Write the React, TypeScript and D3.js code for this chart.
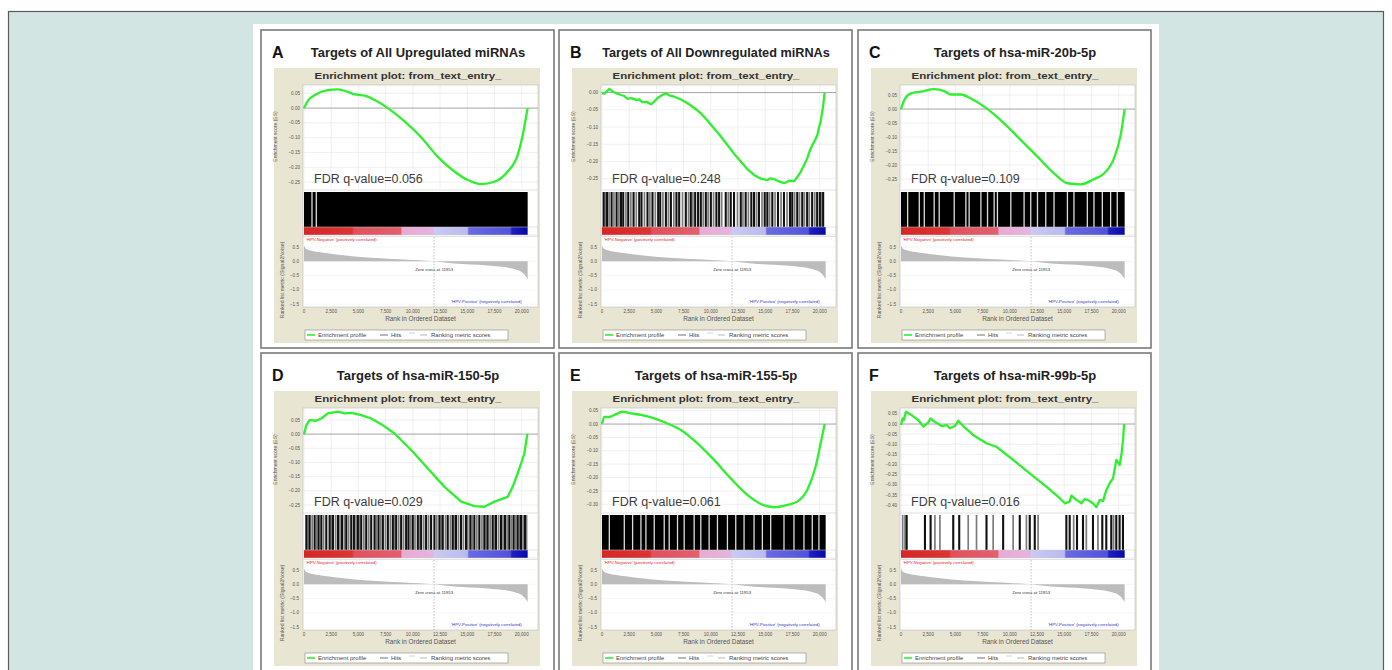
import React from "react";
import * as d3 from "d3";

// ---------------- DATA ----------------
const panelLetters = ["A", "B", "C", "D", "E", "F"];
const panelTitles = [
  "Targets of All Upregulated miRNAs",
  "Targets of All Downregulated miRNAs",
  "Targets of hsa-miR-20b-5p",
  "Targets of hsa-miR-150-5p",
  "Targets of hsa-miR-155-5p",
  "Targets of hsa-miR-99b-5p",
];
const fdrValues = ["0.056", "0.248", "0.109", "0.029", "0.061", "0.016"];
const plotTitle = "Enrichment plot: from_text_entry_";
const esAxisLabel = "Enrichment score (ES)";
const rankedAxisLabel = "Ranked list metric (Signal2Noise)";
const xAxisLabel = "Rank in Ordered Dataset";
const posLabel = "'HPV-Negative' (positively correlated)";
const negLabel = "'HPV-Positive' (negatively correlated)";
const legendLabels = ["Enrichment profile", "Hits", "Ranking metric scores"];

const xTickValues = [0, 2500, 5000, 7500, 10000, 12500, 15000, 17500, 20000];
const xDomainMax = 21500;
const listSize = 20550;
const zeroCross = 11953;
const rankedTickValues = [0.5, 0, -0.5, -1, -1.5];
const rankedDomain = [-1.6, 0.85];

// ranking metric (same dataset in every panel)
const rankedMetric: [number, number][] = [
  [0, 0.56], [150, 0.45], [600, 0.38], [1600, 0.31], [3000, 0.24], [4650, 0.17],
  [7000, 0.11], [9200, 0.06], [11953, 0], [13800, -0.08], [16870, -0.15],
  [19300, -0.27], [20240, -0.45], [20550, -0.62],
];

// colour bar of the ranked list
const colorBarStops: [number, string][] = [
  [0, "#d52626"], [4400, "#dc3434"], [4600, "#e0505c"], [8900, "#e2606e"],
  [9000, "#eaaad2"], [11850, "#e4b4e0"], [11950, "#cacaf3"], [15000, "#babaf0"],
  [15150, "#6a6ae2"], [18950, "#5252da"], [19100, "#2020c2"], [20550, "#0808a6"],
];

// ES axes
const esTicksA = [0.05, 0, -0.05, -0.1, -0.15, -0.2, -0.25];
const esTicksB = [0, -0.05, -0.1, -0.15, -0.2, -0.25];
const esTicksC = [0.05, 0, -0.05, -0.1, -0.15, -0.2, -0.25];
const esTicksD = [0.05, 0, -0.05, -0.1, -0.15, -0.2, -0.25];
const esTicksE = [0.05, 0, -0.05, -0.1, -0.15, -0.2, -0.25, -0.3];
const esTicksF = [0.05, 0, -0.05, -0.1, -0.15, -0.2, -0.25, -0.3, -0.35, -0.4];

const esDomainA = [-0.27, 0.078];
const esDomainB = [-0.277, 0.022];
const esDomainC = [-0.282, 0.086];
const esDomainD = [-0.271, 0.092];
const esDomainE = [-0.325, 0.06];
const esDomainF = [-0.429, 0.079];

// running enrichment score curves [rank, ES]
const esCurveA: [number, number][] = [
  [0, 0], [400, 0.027], [1000, 0.044], [2200, 0.061], [3100, 0.063], [3750, 0.058],
  [4700, 0.046], [5600, 0.042], [6500, 0.027], [7700, 0], [9270, -0.046],
  [10800, -0.1], [12300, -0.165], [13850, -0.215], [15050, -0.243], [16300, -0.257],
  [17500, -0.249], [18700, -0.215], [19630, -0.159], [20100, -0.091], [20430, -0.024],
  [20550, 0],
];
const esCurveB: [number, number][] = [
  [0, -0.002], [210, -0.003], [680, 0.011], [990, 0.003], [1300, -0.002], [1740, -0.007],
  [2050, -0.01], [2350, -0.018], [2700, -0.016], [3120, -0.021], [3400, -0.02],
  [3730, -0.028], [4100, -0.027], [4500, -0.034], [4800, -0.026], [5100, -0.016],
  [5500, -0.008], [5870, -0.002], [6250, -0.009], [6630, -0.012], [7250, -0.02],
  [7860, -0.031], [8450, -0.044], [9080, -0.06], [9700, -0.082], [10300, -0.104],
  [10900, -0.127], [11520, -0.152], [12150, -0.178], [12750, -0.2], [13350, -0.222],
  [13970, -0.239], [14600, -0.25], [15190, -0.254], [15500, -0.249], [15800, -0.251],
  [16250, -0.258], [16730, -0.263], [17200, -0.256], [17650, -0.257], [17950, -0.245],
  [18260, -0.23], [18550, -0.212], [18870, -0.19], [19100, -0.168], [19330, -0.152],
  [19550, -0.14], [19790, -0.123], [19950, -0.1], [20090, -0.084], [20200, -0.062],
  [20330, -0.036], [20460, 0],
];
const esCurveC: [number, number][] = [
  [0, 0], [300, 0.032], [920, 0.056], [1830, 0.062], [3060, 0.071], [3970, 0.064],
  [4590, 0.052], [5500, 0.052], [6420, 0.038], [7950, 0], [9480, -0.051],
  [11010, -0.111], [12540, -0.17], [14070, -0.23], [15290, -0.265], [16510, -0.269],
  [17740, -0.25], [18650, -0.23], [19570, -0.176], [20180, -0.093], [20550, 0],
];
const esCurveD: [number, number][] = [
  [0, 0], [220, 0.032], [520, 0.049], [1130, 0.047], [1590, 0.055], [2200, 0.073],
  [3120, 0.079], [3730, 0.073], [4340, 0.075], [5260, 0.067], [6180, 0.055],
  [7100, 0.035], [8320, 0.002], [9850, -0.056], [11380, -0.121], [12910, -0.186],
  [14440, -0.238], [15660, -0.254], [16580, -0.256], [17500, -0.238], [18720, -0.221],
  [19170, -0.186], [19640, -0.138], [19950, -0.103], [20250, -0.068], [20500, -0.004],
  [20550, 0],
];
const esCurveE: [number, number][] = [
  [0, 0], [210, 0.027], [670, 0.027], [1130, 0.034], [1890, 0.046], [2660, 0.04],
  [3580, 0.034], [4800, 0.021], [6020, 0.002], [7250, -0.022], [8770, -0.072],
  [10300, -0.134], [11830, -0.203], [13360, -0.265], [14590, -0.299], [15810, -0.311],
  [17030, -0.302], [17950, -0.29], [18870, -0.246], [19630, -0.159], [20090, -0.072],
  [20460, 0],
];
const esCurveF: [number, number][] = [
  [0, -0.005], [150, 0.028], [260, 0.02], [450, 0.061], [970, 0.044], [1590, 0.02],
  [2050, -0.013], [2500, 0.007], [2720, 0.028], [3090, 0.011], [3730, -0.01],
  [4190, -0.005], [4490, -0.021], [4950, -0.01], [5260, 0.016], [5720, -0.01],
  [6630, -0.054], [7850, -0.095], [8770, -0.112], [10300, -0.177], [11830, -0.243],
  [13360, -0.309], [14590, -0.366], [15050, -0.391], [15500, -0.383], [15660, -0.353],
  [16120, -0.374], [16580, -0.391], [16880, -0.369], [17340, -0.38], [17650, -0.392],
  [17950, -0.41], [18260, -0.374], [18560, -0.38], [18870, -0.325], [19170, -0.292],
  [19480, -0.268], [19790, -0.177], [20090, -0.202], [20250, -0.153], [20400, -0.079],
  [20500, 0],
];

// hits: black base with white gaps (A, C, E) or separate black / gray lines (B, D, F)
const hitGapsA = [734, 1131];
const hitGapsC = [610, 1680, 2140, 3050, 3510, 4890, 5960, 6260, 7340, 7950, 8560, 8860,
  10090, 11310, 11920, 12540, 13300, 14060, 15290, 15890, 17120, 17730, 18500, 19260, 19870];
const hitGapsE = [673, 2048, 2812, 3577, 4035, 4799, 5717, 6175, 6939, 7551, 8468, 9079,
  9843, 10608, 11525, 12289, 13053, 13970, 14735, 15499, 16722, 17639, 18556, 19320, 19931];
const hitLinesB = [150, 460, 880, 1340, 1740, 1950, 2410, 2900, 3420, 3630, 4180, 4640, 5160,
  5350, 5870, 6330, 6840, 7090, 7700, 8160, 8560, 8830, 9080, 9540, 10000, 10510, 10760,
  11370, 11830, 12130, 12750, 13200, 13720, 13970, 14420, 14950, 15190, 15650, 16170, 16720,
  17270, 17480, 17940, 18400, 18850, 19310, 19770, 20020, 20320];
const hitGrayB = [300, 650, 1100, 1550, 2200, 2650, 3150, 3900, 4400, 4900, 5600, 6100, 6600,
  7400, 7950, 8350, 9300, 9750, 10250, 11000, 11600, 12450, 12950, 13450, 14200, 14700,
  15400, 15900, 16450, 17000, 17700, 18150, 18600, 19050, 19550, 20200];
const hitLinesD = [214, 520, 978, 1345, 1590, 2048, 2354, 2660, 3118, 3485, 3882, 4341, 4586,
  4952, 5258, 5717, 6175, 6481, 6848, 7245, 7704, 8162, 8468, 8926, 9385, 9599, 9996, 10455,
  10761, 11219, 11678, 11983, 12442, 12748, 13206, 13665, 13971, 14429, 14888, 15285, 15652,
  16110, 16569, 16875, 17333, 17639, 18097, 18464, 18862, 19259, 19626, 19932, 20299];
const hitGrayD = [370, 750, 1180, 1800, 2500, 2900, 3300, 3700, 4100, 4780, 5100, 5500, 5950,
  6650, 7050, 7480, 7930, 8300, 8700, 9150, 9800, 10200, 10600, 11000, 11450, 12200, 12600,
  13000, 13450, 13800, 14200, 14650, 15050, 15450, 15880, 16350, 16720, 17100, 17480, 17870,
  18280, 18660, 19060, 19440, 19780, 20120, 20450];
const hitLinesF = [520, 2201, 2721, 4800, 5350, 7856, 9385, 10913, 11830, 12289, 15193,
  15499, 16172, 16722, 17639, 18495, 18862, 19320, 19779, 20085, 20391];
const hitGrayF = [153, 367, 3118, 3577, 6175, 6939, 8468, 10302, 11525, 12595, 15866,
  17028, 18098, 19534];

// ---------------- LAYOUT / STYLE ----------------
const PANEL_X = [261, 559, 858];
const PANEL_Y = [30, 353];
const PW = 293;
const PH = 318;
const PLOT_L = 42;
const PLOT_R = 277;
const ES_TOP = 55;
const ES_BOT = 158;
const HIT_TOP = 162;
const HIT_BOT = 197;
const BAR_BOT = 205;
const RK_TOP = 207;
const RK_BOT = 277;
const GREEN = "#2ef02e";
const BEIGE = "#e9e5d3";
const SANS = "'Liberation Sans', Arial, sans-serif";

const panels = [
  { es: esCurveA, ticks: esTicksA, dom: esDomainA, base: true, gaps: hitGapsA, lines: [], gray: [], curve: d3.curveMonotoneX },
  { es: esCurveB, ticks: esTicksB, dom: esDomainB, base: false, gaps: [], lines: hitLinesB, gray: hitGrayB, curve: d3.curveLinear },
  { es: esCurveC, ticks: esTicksC, dom: esDomainC, base: true, gaps: hitGapsC, lines: [], gray: [], curve: d3.curveMonotoneX },
  { es: esCurveD, ticks: esTicksD, dom: esDomainD, base: false, gaps: [], lines: hitLinesD, gray: hitGrayD, curve: d3.curveLinear },
  { es: esCurveE, ticks: esTicksE, dom: esDomainE, base: true, gaps: hitGapsE, lines: [], gray: [], curve: d3.curveMonotoneX },
  { es: esCurveF, ticks: esTicksF, dom: esDomainF, base: false, gaps: [], lines: hitLinesF, gray: hitGrayF, curve: d3.curveLinear },
];

const fmtEs = d3.format(".2f");
const fmtRank = d3.format(",");
const fmtRk = d3.format(".1f");

function Panel({ i }: { i: number }) {
  const p = panels[i];
  const px = PANEL_X[i % 3];
  const py = PANEL_Y[Math.floor(i / 3)];
  const x = d3.scaleLinear().domain([0, xDomainMax]).range([PLOT_L + 1, PLOT_R]);
  const yEs = d3.scaleLinear().domain(p.dom).range([ES_BOT, ES_TOP]);
  const yRk = d3.scaleLinear().domain(rankedDomain).range([RK_BOT, RK_TOP]);
  const esLine = d3.line<[number, number]>().x((d) => x(d[0])).y((d) => yEs(d[1])).curve(p.curve);
  const rkArea = d3
    .area<[number, number]>()
    .x((d) => x(d[0]))
    .y0(yRk(0))
    .y1((d) => yRk(d[1]))
    .curve(d3.curveMonotoneX);
  const gid = `cbar${i}`;
  const title = panelTitles[i];
  return (
    <g transform={`translate(${px},${py})`}>
      <rect x={0} y={0} width={PW} height={PH} fill="#fff" stroke="#7a7a7a" strokeWidth={1.6} />
      <text x={11} y={28} fontFamily={SANS} fontWeight={700} fontSize={16} fill="#111">
        {panelLetters[i]}
      </text>
      <text
        x={157}
        y={27}
        textAnchor="middle"
        fontFamily={SANS}
        fontWeight={700}
        fontSize={12.5}
        fill="#222"
        textLength={title.length * 6.5}
        lengthAdjust="spacingAndGlyphs"
      >
        {title}
      </text>
      <rect x={13} y={38} width={266} height={275} fill={BEIGE} />
      <text
        x={147}
        y={49}
        textAnchor="middle"
        fontFamily={SANS}
        fontWeight={700}
        fontSize={8.5}
        fill="#333"
        textLength={187}
        lengthAdjust="spacingAndGlyphs"
      >
        {plotTitle}
      </text>
      {/* white plot area */}
      <rect x={PLOT_L} y={ES_TOP} width={PLOT_R - PLOT_L} height={RK_BOT - ES_TOP} fill="#fff" stroke="#bdbdbd" strokeWidth={0.6} />
      {/* ES grid */}
      {xTickValues.map((t) => (
        <line key={`gx${t}`} x1={x(t)} x2={x(t)} y1={ES_TOP} y2={ES_BOT} stroke="#e6e6e6" strokeWidth={0.6} />
      ))}
      {p.ticks.map((t) => (
        <line key={`gy${t}`} x1={PLOT_L} x2={PLOT_R} y1={yEs(t)} y2={yEs(t)} stroke={t === 0 ? "#9a9a9a" : "#e6e6e6"} strokeWidth={t === 0 ? 0.9 : 0.6} />
      ))}
      {p.ticks.map((t) => (
        <text key={`ty${t}`} x={PLOT_L - 3} y={yEs(t) + 1.6} textAnchor="end" fontFamily={SANS} fontSize={4.6} fill="#555">
          {fmtEs(t)}
        </text>
      ))}
      <text
        transform={`translate(16,${(ES_TOP + ES_BOT) / 2}) rotate(-90)`}
        textAnchor="middle"
        fontFamily={SANS}
        fontSize={5}
        fill="#555"
      >
        {esAxisLabel}
      </text>
      <path d={esLine(p.es) || ""} fill="none" stroke={GREEN} strokeWidth={2.3} strokeLinejoin="round" />
      <text x={53} y={153} fontFamily={SANS} fontSize={12.5} fill="#3e3e3e">
        {`FDR q-value=${fdrValues[i]}`}
      </text>
      <line x1={PLOT_L} x2={PLOT_R} y1={ES_BOT + 2} y2={ES_BOT + 2} stroke="#cfcfcf" strokeWidth={0.6} />
      {/* hits */}
      {p.base && <rect x={x(0)} y={HIT_TOP} width={x(listSize) - x(0)} height={HIT_BOT - HIT_TOP} fill="#000" />}
      {p.gaps.map((g) => (
        <line key={`g${g}`} x1={x(g)} x2={x(g)} y1={HIT_TOP} y2={HIT_BOT} stroke="#dcdcdc" strokeWidth={1.3} />
      ))}
      {p.gray.map((g) => (
        <line key={`h2${g}`} x1={x(g)} x2={x(g)} y1={HIT_TOP} y2={HIT_BOT} stroke="#7c7c7c" strokeWidth={1.7} />
      ))}
      {p.lines.map((g) => (
        <line key={`h${g}`} x1={x(g)} x2={x(g)} y1={HIT_TOP} y2={HIT_BOT} stroke="#111" strokeWidth={2.1} />
      ))}
      {/* colour bar */}
      <defs>
        <linearGradient id={gid} gradientUnits="userSpaceOnUse" x1={x(0)} x2={x(listSize)} y1={0} y2={0}>
          {colorBarStops.map(([r, c]) => (
            <stop key={r} offset={r / listSize} stopColor={c} />
          ))}
        </linearGradient>
      </defs>
      <rect x={x(0)} y={HIT_BOT} width={x(listSize) - x(0)} height={BAR_BOT - HIT_BOT} fill={`url(#${gid})`} />
      <rect x={PLOT_L} y={HIT_BOT} width={PLOT_R - PLOT_L} height={BAR_BOT - HIT_BOT} fill="none" stroke="#cfcfcf" strokeWidth={0.5} />
      <line x1={PLOT_L} x2={PLOT_R} y1={BAR_BOT + 1.5} y2={BAR_BOT + 1.5} stroke="#cfcfcf" strokeWidth={0.6} />
      {/* ranked list */}
      {rankedTickValues.map((t) => (
        <line key={`rg${t}`} x1={PLOT_L} x2={PLOT_R} y1={yRk(t)} y2={yRk(t)} stroke="#eeeeee" strokeWidth={0.6} />
      ))}
      <path d={rkArea(rankedMetric) || ""} fill="#bcbcbc" />
      <line x1={x(zeroCross)} x2={x(zeroCross)} y1={RK_TOP} y2={RK_BOT} stroke="#9a9a9a" strokeWidth={0.6} strokeDasharray="1.5,1.5" />
      {rankedTickValues.map((t) => (
        <text key={`rt${t}`} x={PLOT_L - 4} y={yRk(t) + 1.6} textAnchor="end" fontFamily={SANS} fontSize={4.6} fill="#555">
          {fmtRk(t)}
        </text>
      ))}
      <text x={PLOT_L + 3} y={RK_TOP + 4} fontFamily={SANS} fontSize={4.3} fill="#d22">
        {posLabel}
      </text>
      <text x={x(listSize) - 6} y={RK_BOT - 4} textAnchor="end" fontFamily={SANS} fontSize={4.3} fill="#33c">
        {negLabel}
      </text>
      <text x={x(zeroCross)} y={RK_TOP + 34} textAnchor="middle" fontFamily={SANS} fontSize={4.3} fill="#333">
        {`Zero cross at ${zeroCross}`}
      </text>
      <text
        transform={`translate(23,250) rotate(-90)`}
        textAnchor="middle"
        fontFamily={SANS}
        fontSize={5.2}
        fill="#555"
      >
        {rankedAxisLabel}
      </text>
      {xTickValues.map((t) => (
        <text key={`xt${t}`} x={x(t)} y={RK_BOT + 6} textAnchor="middle" fontFamily={SANS} fontSize={4.6} fill="#555">
          {fmtRank(t)}
        </text>
      ))}
      <text x={(PLOT_L + PLOT_R) / 2} y={RK_BOT + 14} textAnchor="middle" fontFamily={SANS} fontSize={6.4} fill="#555">
        {xAxisLabel}
      </text>
      {/* legend */}
      <rect x={44} y={300} width={203} height={10} fill="#fff" stroke="#888" strokeWidth={0.6} />
      <line x1={46} x2={54} y1={305} y2={305} stroke={GREEN} strokeWidth={1.6} />
      <text x={57} y={307} fontFamily={SANS} fontSize={6} fill="#444">{legendLabels[0]}</text>
      <line x1={119} x2={127} y1={305} y2={305} stroke="#333" strokeWidth={0.7} />
      <text x={130} y={307} fontFamily={SANS} fontSize={6} fill="#444">{legendLabels[1]}</text>
      <line x1={149} x2={149} y1={302} y2={304} stroke="#aaa" strokeWidth={0.5} />
      <line x1={151} x2={151} y1={302} y2={304} stroke="#aaa" strokeWidth={0.5} />
      <line x1={153} x2={153} y1={302} y2={304} stroke="#aaa" strokeWidth={0.5} />
      <line x1={159} x2={166} y1={305} y2={305} stroke="#999" strokeWidth={0.7} />
      <text x={170} y={307} fontFamily={SANS} fontSize={6} fill="#444">{legendLabels[2]}</text>
    </g>
  );
}

export default function App() {
  return (
    <svg
      width={1392}
      height={670}
      style={{ position: "absolute", left: 0, top: 0, display: "block", background: "#fff" }}
    >
      <rect x={8.5} y={11.5} width={1375} height={670} fill="#d3e5e3" stroke="#5a5a5a" strokeWidth={1.2} />
      <rect x={253} y={24} width={906} height={660} fill="#fff" />
      {panels.map((_, i) => (
        <Panel key={i} i={i} />
      ))}
    </svg>
  );
}
